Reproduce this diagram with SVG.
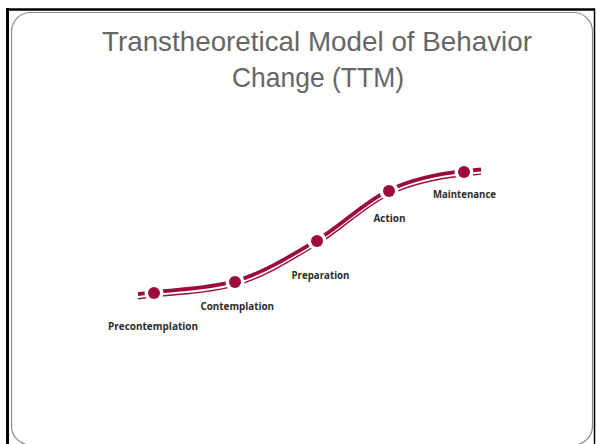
<svg xmlns="http://www.w3.org/2000/svg" width="596" height="444" viewBox="0 0 596 444">
  <style>
    .title { font-family: "Liberation Sans", Arial, sans-serif; font-size: 28px; fill: #666666; text-anchor: middle; }
    .stage { font-family: "Open Sans", "Noto Sans", sans-serif; font-size: 10px; font-weight: 700; fill: #2b2b2b; }
    .dot { fill: #9c0c3a; }
    .track-main { fill: none; stroke: #9c0c3a; stroke-width: 3.8; }
    .track-sub { fill: none; stroke: #9c0c3a; stroke-width: 1.4; }
  </style>
  <defs>
    <!-- the S-shaped progression track -->
    <path id="track" d="M138,294.9 L154,293 C181,289.8 208,289.6 235,282 C262.3,274.4 289.7,257.4 317,241 C341,226.6 365,202.3 389,191 C414,179.3 439,174.5 464,172 L481,170.3"/>
    <!-- cut the track open around every stage point -->
    <mask id="gaps" maskUnits="userSpaceOnUse" x="0" y="0" width="596" height="444">
      <rect width="596" height="444" fill="#fff"/>
      <circle cx="154" cy="293" r="9.5" fill="#000"/>
      <circle cx="235" cy="282" r="9.5" fill="#000"/>
      <circle cx="317" cy="241" r="9.5" fill="#000"/>
      <circle cx="389" cy="191" r="9.5" fill="#000"/>
      <circle cx="464" cy="172" r="9.5" fill="#000"/>
    </mask>
  </defs>

  <rect width="596" height="444" fill="#fff"/>

  <!-- slide frame -->
  <g id="frame">
    <line x1="7.5" y1="8" x2="7.5" y2="444" stroke="#000" stroke-width="3"/>
    <line x1="6" y1="9.5" x2="595" y2="9.5" stroke="#000" stroke-width="2.5"/>
    <line x1="594.5" y1="8.5" x2="594.5" y2="444" stroke="#000" stroke-width="1.5"/>
    <rect x="11.5" y="12.5" width="581" height="432.5" rx="19" ry="19" fill="#fff" stroke="#8a8a8a" stroke-width="1.2"/>
  </g>

  <g id="title">
    <text class="title" x="317" y="51" textLength="430" lengthAdjust="spacingAndGlyphs">Transtheoretical Model of Behavior</text>
    <text class="title" x="318" y="87" textLength="172" lengthAdjust="spacingAndGlyphs">Change (TTM)</text>
  </g>

  <!-- connectors: double-stroke track between stages -->
  <g id="connectors" mask="url(#gaps)">
    <use href="#track" class="track-main" transform="translate(0,-0.8)"/>
    <use href="#track" class="track-sub" transform="translate(0,3.8)"/>
  </g>

  <g id="precontemplation">
    <circle class="dot" cx="154" cy="293" r="6"/>
    <text class="stage" x="108" y="329.5" textLength="90" lengthAdjust="spacingAndGlyphs">Precontemplation</text>
  </g>
  <g id="contemplation">
    <circle class="dot" cx="235" cy="282" r="6"/>
    <text class="stage" x="200.5" y="309.5" textLength="73.5" lengthAdjust="spacingAndGlyphs">Contemplation</text>
  </g>
  <g id="preparation">
    <circle class="dot" cx="317" cy="241" r="6"/>
    <text class="stage" x="291.5" y="278.5" textLength="58" lengthAdjust="spacingAndGlyphs">Preparation</text>
  </g>
  <g id="action">
    <circle class="dot" cx="389" cy="191" r="6"/>
    <text class="stage" x="373.5" y="222" textLength="32" lengthAdjust="spacingAndGlyphs">Action</text>
  </g>
  <g id="maintenance">
    <circle class="dot" cx="464" cy="172" r="6"/>
    <text class="stage" x="433" y="198" textLength="63" lengthAdjust="spacingAndGlyphs">Maintenance</text>
  </g>
</svg>
